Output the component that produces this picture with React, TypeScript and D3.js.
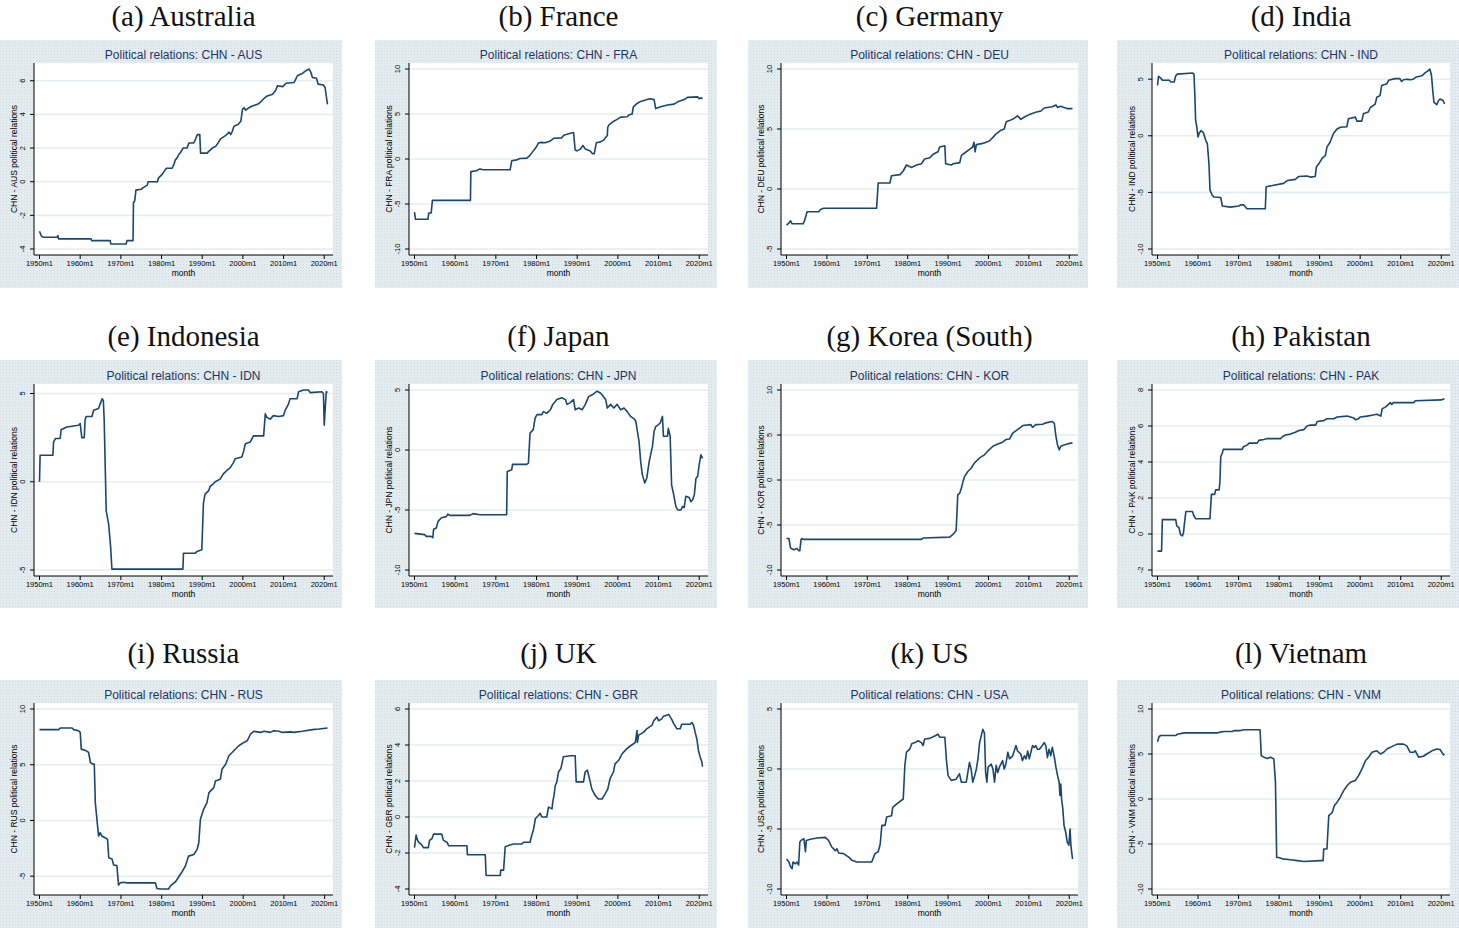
import React from "react";
import * as d3 from "d3";

type Pt = [number, number];

const panelTitles = [
  "(a) Australia", "(b) France", "(c) Germany", "(d) India",
  "(e) Indonesia", "(f) Japan", "(g) Korea (South)", "(h) Pakistan",
  "(i) Russia", "(j) UK", "(k) US", "(l) Vietnam",
];
const partnerCodes = ["AUS", "FRA", "DEU", "IND", "IDN", "JPN", "KOR", "PAK", "RUS", "GBR", "USA", "VNM"];
const xTickYears = [1950, 1960, 1970, 1980, 1990, 2000, 2010, 2020];

const yTicksAUS = [-4, -2, 0, 2, 4, 6];
const yTicksFRA = [-10, -5, 0, 5, 10];
const yTicksDEU = [-5, 0, 5, 10];
const yTicksIND = [-10, -5, 0, 5];
const yTicksIDN = [-5, 0, 5];
const yTicksJPN = [-10, -5, 0, 5];
const yTicksKOR = [-10, -5, 0, 5, 10];
const yTicksPAK = [-2, 0, 2, 4, 6, 8];
const yTicksRUS = [-5, 0, 5, 10];
const yTicksGBR = [-4, -2, 0, 2, 4, 6];
const yTicksUSA = [-10, -5, 0, 5];
const yTicksVNM = [-10, -5, 0, 5, 10];

const seriesAUS: Pt[] = [
  [1950.0, -2.95], [1950.4, -3.2], [1950.9, -3.3], [1954.4, -3.3], [1954.5, -3.2], [1954.7, -3.4],
  [1962.7, -3.4], [1962.8, -3.5], [1967.4, -3.5], [1967.5, -3.7], [1971.3, -3.7], [1971.5, -3.5],
  [1973.0, -3.5], [1973.1, -1.25], [1973.4, -1.15], [1973.7, -0.5], [1975.0, -0.45], [1975.5, -0.35],
  [1976.5, -0.2], [1976.7, 0], [1979.0, 0], [1979.2, 0.2], [1979.6, 0.3], [1980.2, 0.45], [1980.6, 0.6],
  [1981.2, 0.8], [1982.6, 0.8], [1983.0, 1.0], [1983.4, 1.3], [1983.8, 1.4], [1984.2, 1.6], [1984.7, 1.75],
  [1985.3, 2.0], [1986.3, 2.0], [1986.7, 2.3], [1987.9, 2.3], [1988.4, 2.55], [1988.8, 2.8], [1989.4, 2.8],
  [1989.6, 1.7], [1991.2, 1.7], [1991.6, 1.8], [1992.5, 2.0], [1993.3, 2.1], [1993.9, 2.3], [1994.5, 2.55],
  [1995.8, 2.75], [1996.6, 2.95], [1997.0, 2.8], [1997.4, 3.0], [1997.8, 3.3], [1998.8, 3.4], [1999.5, 3.6],
  [1999.9, 4.3], [2000.3, 4.4], [2000.7, 4.25], [2001.5, 4.4], [2002.3, 4.5], [2003.6, 4.6], [2004.4, 4.75],
  [2005.2, 4.95], [2006.0, 5.1], [2007.3, 5.2], [2008.1, 5.45], [2008.5, 5.7], [2009.8, 5.65], [2010.6, 5.85],
  [2012.6, 5.9], [2013.4, 6.3], [2014.7, 6.45], [2015.5, 6.6], [2016.3, 6.7], [2016.7, 6.5], [2017.1, 6.2],
  [2018.1, 6.15], [2018.5, 5.8], [2019.8, 5.75], [2020.2, 5.6], [2020.8, 4.6],
];

const seriesFRA: Pt[] = [
  [1950.0, -5.9], [1950.25, -6.7], [1953.3, -6.7], [1953.5, -6.0], [1954.1, -6.0], [1954.4, -4.6],
  [1963.75, -4.6], [1963.85, -1.4], [1965.2, -1.3], [1966.1, -1.1], [1966.9, -1.2], [1973.5, -1.2],
  [1973.9, -0.2], [1975.1, -0.1], [1975.9, 0.05], [1977.6, 0.1], [1978.4, 0.4], [1979.2, 0.9], [1979.9, 1.3],
  [1980.5, 1.8], [1981.3, 1.85], [1982.1, 1.8], [1983.4, 2.0], [1984.2, 2.3], [1986.2, 2.35], [1986.7, 2.65],
  [1987.9, 2.8], [1989.1, 2.95], [1989.5, 1.0], [1989.9, 0.9], [1990.8, 1.1], [1991.4, 1.5], [1992.0, 1.1],
  [1993.2, 0.9], [1993.7, 0.6], [1994.2, 0.6], [1994.7, 1.8], [1995.7, 1.9], [1996.5, 2.1], [1997.4, 2.6],
  [1997.5, 3.5], [1997.8, 3.8], [1999.0, 4.2], [1999.8, 4.4], [2000.7, 4.65], [2002.3, 4.7], [2002.7, 4.9],
  [2003.5, 5.0], [2003.8, 5.8], [2004.8, 6.2], [2005.6, 6.4], [2007.2, 6.6], [2007.9, 6.7], [2008.9, 6.6],
  [2009.3, 5.6], [2010.5, 5.8], [2012.2, 6.0], [2013.8, 6.1], [2014.7, 6.35], [2016.3, 6.6], [2017.1, 6.85],
  [2019.6, 6.9], [2020.0, 6.7], [2020.4, 6.8], [2020.8, 6.7],
];

const seriesDEU: Pt[] = [
  [1950.0, -3.0], [1950.6, -2.85], [1951.0, -2.65], [1951.4, -2.9], [1954.1, -2.9], [1954.5, -2.6],
  [1955.1, -1.9], [1958.0, -1.9], [1958.4, -1.7], [1959.2, -1.6], [1972.3, -1.6], [1972.7, 0.5],
  [1975.6, 0.5], [1976.0, 1.1], [1978.1, 1.2], [1978.9, 1.5], [1979.7, 2.0], [1981.0, 1.8], [1982.2, 2.0],
  [1983.4, 2.1], [1984.2, 2.5], [1985.5, 2.6], [1986.3, 2.9], [1987.5, 3.1], [1987.9, 3.5], [1989.2, 3.6],
  [1989.4, 2.1], [1990.8, 2.0], [1991.2, 2.1], [1992.9, 2.2], [1993.3, 2.8], [1994.1, 3.0], [1995.3, 3.3],
  [1996.1, 3.5], [1996.4, 3.9], [1996.7, 3.1], [1997.0, 3.7], [1998.6, 3.8], [2000.2, 4.0], [2001.1, 4.3],
  [2001.9, 4.6], [2003.1, 4.9], [2003.9, 5.0], [2004.4, 5.6], [2005.2, 5.7], [2006.4, 5.9], [2007.2, 6.1],
  [2008.0, 5.8], [2008.9, 6.0], [2010.1, 6.2], [2011.7, 6.4], [2013.0, 6.5], [2013.8, 6.75], [2015.8, 6.85],
  [2016.7, 7.0], [2017.1, 6.8], [2017.9, 6.9], [2018.7, 6.8], [2019.5, 6.7], [2020.8, 6.7],
];

const seriesIND: Pt[] = [
  [1950.0, 4.45], [1950.25, 5.25], [1950.8, 5.1], [1951.2, 4.9], [1952.9, 4.9], [1953.3, 4.75], [1954.1, 4.75],
  [1954.5, 5.3], [1954.9, 5.45], [1958.6, 5.55], [1959.0, 5.45], [1959.2, 3.7], [1959.4, 1.4], [1959.7, 0.75],
  [1960.0, -0.1], [1960.25, 0.2], [1960.7, 0.45], [1961.3, 0.3], [1961.9, -0.4], [1962.3, -0.7], [1962.7, -2.5],
  [1962.95, -4.8], [1963.5, -5.25], [1963.9, -5.4], [1965.6, -5.45], [1966.0, -6.2], [1968.0, -6.3],
  [1970.1, -6.2], [1970.5, -6.1], [1971.3, -6.1], [1971.7, -6.3], [1972.1, -6.45], [1976.6, -6.45],
  [1976.8, -4.5], [1981.1, -4.2], [1982.0, -3.95], [1984.0, -3.85], [1984.8, -3.6], [1986.9, -3.55],
  [1987.7, -3.65], [1988.9, -3.6], [1989.2, -2.75], [1989.75, -2.5], [1990.6, -2.0], [1991.4, -1.75],
  [1991.8, -1.0], [1992.6, -0.55], [1993.4, 0.2], [1994.3, 0.6], [1995.1, 0.75], [1996.7, 0.8], [1997.1, 1.5],
  [1998.8, 1.65], [1999.2, 1.3], [2000.4, 1.3], [2000.8, 1.95], [2002.0, 2.1], [2002.5, 2.5], [2003.7, 2.8],
  [2004.1, 3.4], [2004.9, 3.55], [2005.3, 4.45], [2006.6, 4.6], [2007.0, 4.9], [2008.6, 5.05], [2009.8, 5.05],
  [2010.2, 4.8], [2010.7, 4.95], [2011.5, 5.0], [2012.3, 4.95], [2013.1, 5.0], [2013.9, 5.2], [2015.2, 5.3],
  [2016.0, 5.55], [2016.8, 5.75], [2017.2, 5.9], [2017.6, 5.3], [2017.9, 4.0], [2018.2, 2.95], [2018.9, 2.75],
  [2019.3, 3.1], [2019.7, 3.25], [2020.5, 3.1], [2020.8, 2.8],
];

const seriesIDN: Pt[] = [
  [1950.0, 0], [1950.15, 1.5], [1953.3, 1.5], [1953.45, 2.25], [1953.9, 2.45], [1955.1, 2.45], [1955.3, 2.95],
  [1956.7, 3.1], [1957.95, 3.15], [1959.6, 3.2], [1960.0, 3.3], [1960.4, 2.5], [1961.0, 2.5], [1961.2, 3.5],
  [1961.5, 3.7], [1962.9, 3.7], [1963.3, 4.05], [1964.5, 4.15], [1964.9, 4.4], [1965.4, 4.7], [1965.7, 4.6],
  [1965.9, 3.5], [1966.4, -1.65], [1967.0, -2.4], [1967.5, -3.75], [1967.8, -4.95], [1985.25, -4.95],
  [1985.4, -4.05], [1988.3, -4.05], [1988.7, -3.95], [1989.9, -3.85], [1990.3, -1.2], [1990.7, -0.7],
  [1991.6, -0.5], [1992.0, -0.25], [1992.8, -0.1], [1993.2, 0], [1994.4, 0.15], [1995.2, 0.45], [1996.1, 0.65],
  [1996.9, 0.8], [1997.7, 1.1], [1998.1, 1.3], [1999.75, 1.4], [2000.2, 1.75], [2000.6, 2.15], [2001.8, 2.25],
  [2002.6, 2.6], [2005.1, 2.6], [2005.5, 3.85], [2005.9, 3.65], [2006.7, 3.55], [2007.5, 3.75], [2008.8, 3.7],
  [2010.0, 3.75], [2010.4, 4.05], [2011.2, 4.4], [2011.6, 4.7], [2013.3, 4.7], [2013.7, 5.1], [2014.9, 5.2],
  [2016.1, 5.2], [2016.6, 5.05], [2019.4, 5.1], [2019.8, 5.0], [2020.0, 3.2], [2020.25, 4.2], [2020.5, 5.1],
  [2020.8, 5.05],
];

const seriesJPN: Pt[] = [
  [1950.0, -6.95], [1952.5, -7.05], [1952.9, -7.2], [1954.1, -7.2], [1954.5, -7.3], [1954.7, -6.6],
  [1955.35, -6.5], [1955.8, -5.95], [1956.6, -5.65], [1957.8, -5.55], [1958.2, -5.35], [1958.65, -5.45],
  [1963.6, -5.45], [1964.4, -5.3], [1966.1, -5.4], [1972.65, -5.4], [1972.8, -1.8], [1973.9, -1.65],
  [1974.1, -1.2], [1977.6, -1.2], [1978.0, -1.1], [1978.4, 1.4], [1978.8, 1.55], [1979.2, 1.7], [1979.65, 2.65],
  [1980.1, 2.95], [1981.3, 2.95], [1981.7, 3.2], [1982.5, 3.05], [1983.4, 3.35], [1984.0, 3.8], [1985.0, 4.2],
  [1986.2, 4.35], [1987.1, 4.2], [1987.5, 3.8], [1988.3, 3.95], [1989.1, 4.2], [1989.5, 3.35], [1990.4, 3.5],
  [1991.2, 3.35], [1992.0, 3.8], [1992.8, 4.45], [1993.7, 4.6], [1994.9, 4.9], [1995.7, 4.75], [1996.1, 4.6],
  [1997.0, 4.2], [1997.4, 3.5], [1998.2, 3.8], [1999.0, 3.5], [1999.8, 3.8], [2000.7, 3.35], [2001.5, 3.5],
  [2002.3, 3.2], [2003.1, 2.8], [2004.0, 2.6], [2004.4, 2.4], [2004.8, 1.55], [2005.2, 0.7], [2005.6, -0.95],
  [2006.0, -2.05], [2006.6, -2.75], [2007.1, -2.35], [2007.7, -0.95], [2008.5, 0.3], [2008.9, 1.55],
  [2009.3, 1.95], [2009.9, 2.1], [2010.4, 2.25], [2010.95, 2.8], [2011.2, 1.15], [2012.2, 1.15], [2012.4, 1.8],
  [2012.85, 1.15], [2013.2, -2.9], [2013.7, -3.7], [2014.25, -4.7], [2014.7, -5.0], [2015.5, -5.0],
  [2015.9, -4.7], [2016.3, -4.8], [2016.7, -3.85], [2017.5, -3.95], [2017.95, -4.3], [2018.4, -4.15],
  [2018.8, -3.7], [2019.2, -2.35], [2019.6, -2.2], [2020.0, -1.2], [2020.4, -0.4], [2020.8, -0.7],
];

const seriesKOR: Pt[] = [
  [1950.0, -6.5], [1950.6, -6.5], [1951.0, -7.55], [1951.8, -7.75], [1952.6, -7.6], [1953.0, -7.85],
  [1953.3, -7.85], [1953.6, -6.6], [1953.9, -6.5], [1954.1, -6.6], [1983.4, -6.6], [1983.8, -6.45],
  [1990.4, -6.35], [1991.2, -6.05], [1992.0, -5.6], [1992.4, -1.65], [1992.9, -1.45], [1993.3, -0.9],
  [1993.7, -0.15], [1994.1, 0.4], [1994.9, 0.95], [1995.7, 1.3], [1996.55, 1.9], [1997.8, 2.45], [1999.0, 2.8],
  [1999.8, 3.2], [2001.1, 3.75], [2002.3, 4.0], [2003.5, 4.2], [2004.35, 4.5], [2005.2, 4.55], [2006.0, 5.2],
  [2007.2, 5.6], [2008.5, 6.05], [2010.5, 6.15], [2010.9, 5.85], [2011.7, 6.15], [2013.4, 6.2], [2014.2, 6.35],
  [2015.8, 6.5], [2016.3, 6.3], [2016.7, 4.85], [2017.1, 3.9], [2017.5, 3.35], [2017.9, 3.75], [2018.7, 3.9],
  [2019.5, 4.0], [2020.4, 4.1], [2020.8, 4.1],
];

const seriesPAK: Pt[] = [
  [1950.0, -0.95], [1951.0, -0.95], [1951.2, 0.8], [1954.5, 0.8], [1954.75, 0.45], [1955.3, 0.35],
  [1955.7, -0.05], [1956.15, -0.1], [1956.4, 0.05], [1956.7, 0.7], [1957.0, 1.25], [1958.6, 1.25],
  [1959.0, 1.0], [1959.4, 0.85], [1962.95, 0.85], [1963.3, 2.2], [1964.1, 2.2], [1964.35, 2.45], [1965.2, 2.45],
  [1965.4, 2.9], [1965.6, 4.3], [1966.0, 4.5], [1966.2, 4.7], [1970.9, 4.7], [1971.2, 4.85], [1972.15, 4.95],
  [1972.6, 5.05], [1974.6, 5.05], [1975.0, 5.2], [1976.25, 5.25], [1977.1, 5.3], [1980.35, 5.3], [1980.8, 5.4],
  [1981.6, 5.5], [1982.8, 5.55], [1984.0, 5.65], [1984.9, 5.75], [1986.1, 5.8], [1986.9, 6.0], [1987.7, 6.05],
  [1989.0, 6.05], [1989.4, 6.25], [1991.0, 6.3], [1991.8, 6.4], [1993.5, 6.4], [1994.3, 6.5], [1996.8, 6.55],
  [1997.6, 6.5], [1998.4, 6.45], [1998.8, 6.35], [1999.6, 6.4], [2000.0, 6.5], [2001.7, 6.55], [2002.9, 6.6],
  [2004.1, 6.65], [2005.1, 6.55], [2005.4, 6.95], [2006.2, 7.05], [2007.0, 7.2], [2007.4, 7.3], [2007.8, 7.2],
  [2008.2, 7.3], [2013.2, 7.3], [2013.6, 7.4], [2020.1, 7.45], [2020.55, 7.5], [2020.8, 7.5],
];

const seriesRUS: Pt[] = [
  [1950.0, 8.15], [1954.7, 8.15], [1955.1, 8.3], [1958.0, 8.3], [1958.4, 8.15], [1959.6, 8.05], [1960.0, 7.9],
  [1960.25, 6.4], [1961.5, 6.25], [1962.05, 6.1], [1962.5, 5.2], [1963.1, 5.05], [1963.45, 5.05],
  [1963.7, 1.6], [1964.1, 0.1], [1964.5, -1.4], [1964.9, -1.1], [1965.3, -1.4], [1966.1, -1.55],
  [1966.7, -1.7], [1967.0, -3.35], [1967.8, -3.45], [1968.2, -4.0], [1969.0, -4.05], [1969.4, -5.8],
  [1969.8, -5.6], [1970.7, -5.55], [1971.5, -5.6], [1978.45, -5.6], [1978.85, -6.1], [1979.7, -6.15],
  [1981.7, -6.15], [1982.1, -5.9], [1983.0, -5.6], [1983.4, -5.5], [1984.2, -5.05], [1985.0, -4.6],
  [1985.8, -4.1], [1986.6, -3.2], [1987.9, -3.05], [1988.7, -2.6], [1989.1, -2.0], [1989.5, 0.1],
  [1990.3, 1.0], [1991.1, 1.6], [1991.6, 2.5], [1992.8, 2.95], [1993.2, 3.55], [1994.4, 3.7], [1994.8, 4.6],
  [1995.7, 5.05], [1996.5, 5.8], [1997.7, 6.25], [1998.9, 6.7], [2000.2, 7.0], [2001.0, 7.15], [2001.8, 7.75],
  [2002.6, 8.0], [2004.3, 7.9], [2005.1, 8.0], [2006.7, 7.9], [2007.5, 8.05], [2008.8, 8.0], [2009.6, 7.9],
  [2011.6, 7.95], [2012.5, 7.9], [2014.5, 8.0], [2017.0, 8.15], [2018.6, 8.2], [2020.7, 8.3],
];

const seriesGBR: Pt[] = [
  [1950.0, -1.7], [1950.4, -1.0], [1950.6, -1.2], [1951.0, -1.4], [1951.8, -1.55], [1952.2, -1.7],
  [1953.4, -1.7], [1953.7, -1.3], [1954.3, -1.2], [1954.7, -0.95], [1956.7, -0.95], [1957.1, -1.3],
  [1958.0, -1.4], [1958.4, -1.6], [1962.9, -1.6], [1963.0, -2.1], [1967.4, -2.1], [1967.6, -3.25],
  [1971.1, -3.25], [1971.2, -2.95], [1971.9, -2.95], [1972.3, -1.65], [1973.5, -1.55], [1974.3, -1.5],
  [1976.4, -1.5], [1976.8, -1.4], [1978.4, -1.4], [1978.85, -1.0], [1979.3, -0.65], [1979.7, -0.1],
  [1980.5, 0.1], [1980.9, 0.2], [1981.3, 0], [1982.5, 0], [1982.95, 0.55], [1983.8, 0.45], [1984.0, 0.85],
  [1984.3, 1.2], [1984.6, 1.75], [1985.0, 1.95], [1985.4, 2.5], [1986.0, 2.7], [1986.6, 3.35], [1988.3, 3.4],
  [1989.5, 3.4], [1989.75, 1.95], [1991.55, 1.95], [1991.95, 2.5], [1992.5, 2.6], [1993.2, 1.95],
  [1993.6, 1.55], [1994.4, 1.2], [1995.2, 1.0], [1996.1, 1.0], [1996.9, 1.3], [1997.5, 1.55], [1998.1, 2.15],
  [1998.9, 2.5], [1999.3, 2.95], [2000.2, 3.15], [2001.0, 3.5], [2002.2, 3.8], [2003.4, 4.0], [2004.3, 4.15],
  [2004.7, 4.8], [2004.8, 4.15], [2005.1, 4.55], [2006.3, 4.7], [2007.1, 4.9], [2008.4, 5.1], [2008.8, 5.35],
  [2009.6, 5.55], [2010.0, 5.35], [2010.8, 5.45], [2011.2, 5.6], [2012.5, 5.7], [2013.3, 5.4], [2013.7, 5.2],
  [2014.5, 4.9], [2015.3, 4.9], [2015.7, 5.15], [2017.8, 5.15], [2018.2, 5.25], [2018.6, 5.1], [2019.0, 4.7],
  [2019.4, 4.35], [2019.8, 3.7], [2020.2, 3.35], [2020.65, 3.05], [2020.8, 2.8],
];

const seriesUSA: Pt[] = [
  [1950.0, -7.5], [1950.6, -7.75], [1951.0, -8.15], [1951.4, -8.3], [1951.6, -7.75], [1952.2, -7.9],
  [1952.6, -7.75], [1953.0, -8.0], [1953.3, -6.1], [1953.6, -5.95], [1954.3, -5.8], [1954.7, -6.9],
  [1954.9, -5.95], [1955.9, -5.85], [1957.6, -5.75], [1959.6, -5.7], [1960.4, -5.95], [1961.2, -6.5],
  [1962.1, -6.8], [1962.5, -6.65], [1962.9, -7.0], [1964.1, -7.05], [1965.4, -7.35], [1966.2, -7.6],
  [1967.4, -7.75], [1971.1, -7.75], [1971.9, -7.05], [1972.7, -6.9], [1973.2, -6.25], [1973.6, -4.7],
  [1974.4, -4.7], [1974.8, -4.0], [1976.0, -3.9], [1976.3, -3.2], [1977.3, -2.9], [1978.9, -2.5],
  [1979.3, 0.3], [1979.7, 1.4], [1980.5, 1.65], [1981.0, 2.1], [1981.8, 2.2], [1982.6, 2.35], [1983.4, 2.2],
  [1983.8, 1.95], [1984.2, 2.5], [1985.5, 2.55], [1986.7, 2.75], [1987.5, 2.9], [1987.9, 2.65], [1989.2, 2.65],
  [1989.6, 0.7], [1990.0, -0.55], [1990.8, -0.95], [1992.0, -0.85], [1992.8, -0.4], [1993.3, -1.1],
  [1994.5, -1.1], [1995.3, 0.55], [1995.7, 0], [1996.1, -1.1], [1996.6, -0.55], [1997.0, 0], [1997.4, 0.85],
  [1997.8, 2.2], [1998.2, 2.75], [1998.6, 3.3], [1999.0, 3.0], [1999.3, -0.3], [1999.6, -1.1], [1999.9, 0.15],
  [2000.7, 0.4], [2001.1, 0], [2001.5, -1.1], [2001.9, 0.3], [2002.3, -0.3], [2002.7, 0.15], [2003.5, 0.7],
  [2003.9, 0], [2004.3, 0.4], [2004.8, 1.4], [2005.2, 0.85], [2006.0, 1.1], [2006.8, 1.95], [2007.2, 1.5],
  [2008.0, 1.25], [2008.4, 0.7], [2008.9, 1.1], [2009.3, 0.85], [2009.7, 1.5], [2010.1, 0.85], [2010.9, 1.95],
  [2011.3, 1.8], [2011.7, 1.95], [2012.1, 1.65], [2012.6, 1.65], [2013.0, 1.8], [2013.8, 2.2], [2014.2, 1.95],
  [2014.6, 0.95], [2015.0, 1.65], [2015.4, 1.1], [2015.8, 1.8], [2016.3, 1.0], [2016.7, 0.15], [2017.1, -0.55],
  [2017.5, -1.1], [2017.7, -2.2], [2017.9, -1.25], [2018.1, -2.5], [2018.4, -3.3], [2018.7, -4.7],
  [2019.1, -5.25], [2019.5, -6.1], [2019.9, -6.35], [2020.2, -5.0], [2020.4, -6.35], [2020.8, -7.5],
];

const seriesVNM: Pt[] = [
  [1950.0, 6.35], [1950.4, 6.95], [1950.8, 7.05], [1954.5, 7.05], [1954.9, 7.2], [1956.6, 7.35],
  [1964.8, 7.35], [1965.2, 7.4], [1966.4, 7.5], [1968.5, 7.5], [1968.9, 7.6], [1970.5, 7.6], [1971.3, 7.7],
  [1975.3, 7.7], [1975.6, 4.8], [1976.25, 4.65], [1977.1, 4.5], [1977.9, 4.65], [1978.7, 4.45], [1979.1, 1.85],
  [1979.4, -6.5], [1979.9, -6.5], [1980.8, -6.65], [1982.8, -6.75], [1984.5, -6.85], [1986.1, -6.95],
  [1990.2, -6.85], [1990.85, -6.85], [1991.0, -5.55], [1991.8, -5.55], [1992.25, -1.85], [1993.1, -1.5],
  [1993.6, -0.75], [1994.3, -0.35], [1995.1, 0.2], [1995.9, 0.9], [1996.8, 1.5], [1997.6, 1.85], [1998.8, 2.05],
  [1999.6, 2.6], [2000.45, 3.35], [2001.3, 4.25], [2002.1, 4.65], [2002.9, 5.2], [2004.1, 5.35], [2005.0, 5.0],
  [2005.8, 5.2], [2006.6, 5.55], [2008.2, 5.9], [2009.1, 6.1], [2010.7, 6.1], [2011.5, 5.9], [2012.3, 5.2],
  [2013.2, 5.2], [2013.6, 5.35], [2014.4, 4.65], [2015.6, 4.75], [2016.4, 5.0], [2017.7, 5.35], [2018.9, 5.55],
  [2019.7, 5.5], [2020.55, 4.9], [2020.8, 5.0],
];

const allSeries = [
  seriesAUS, seriesFRA, seriesDEU, seriesIND, seriesIDN, seriesJPN,
  seriesKOR, seriesPAK, seriesRUS, seriesGBR, seriesUSA, seriesVNM,
];
const allYTicks = [
  yTicksAUS, yTicksFRA, yTicksDEU, yTicksIND, yTicksIDN, yTicksJPN,
  yTicksKOR, yTicksPAK, yTicksRUS, yTicksGBR, yTicksUSA, yTicksVNM,
];

// ---- layout (pixels) ----
const W = 1459;
const H = 928;
const COL_BG = [[0, 342], [375, 717], [748, 1088], [1117, 1459]];
const COL_PLOT = [[34, 333], [409, 708], [781, 1078], [1152, 1450]];
const ROW_BG_TOP = [40, 360, 680];
const ROW_PLOT_TOP = [63, 384, 703];
const ROW_TITLE_BASE = [26, 346, 663];
const BG_H = 248;
const PLOT_H = 192;
const PAD_Y = 6;
const PAD_X = 5.5;

const NAVY = "#1a476f";
const TITLE_NAVY = "#1c3564";
const BG = "#e6eef1";
const GRID = "#e5eef0";
const SANS = "'Liberation Sans', Arial, Helvetica, sans-serif";
const SERIF = "'Liberation Serif', 'Times New Roman', Times, serif";

function paddedDomain(lo: number, hi: number, px: number, pad: number): [number, number] {
  const k = (px - 2 * pad) / (hi - lo);
  return [lo - pad / k, hi + pad / k];
}

function Panel({ idx }: { idx: number }) {
  const col = idx % 4;
  const row = Math.floor(idx / 4);
  const data = allSeries[idx];
  const yTicks = allYTicks[idx];
  const [L, R] = COL_PLOT[col];
  const T = ROW_PLOT_TOP[row];
  const B = T + PLOT_H;
  const cx = (L + R) / 2;

  const xs = data.map((d) => d[0]).concat(xTickYears);
  const ys = data.map((d) => d[1]).concat(yTicks);
  const x = d3.scaleLinear()
    .domain(paddedDomain(d3.min(xs)!, d3.max(xs)!, R - L, PAD_X))
    .range([L, R]);
  const y = d3.scaleLinear()
    .domain(paddedDomain(d3.min(ys)!, d3.max(ys)!, PLOT_H, PAD_Y))
    .range([B, T]);
  const line = d3.line<Pt>().x((d) => x(d[0])).y((d) => y(d[1]));

  const code = partnerCodes[idx];
  return (
    <g>
      <rect x={COL_BG[col][0]} y={ROW_BG_TOP[row]} width={COL_BG[col][1] - COL_BG[col][0]} height={BG_H} fill="url(#dots)" />
      <text x={cx} y={ROW_TITLE_BASE[row]} textAnchor="middle" fontFamily={SERIF} fontSize={29} fill="#111">
        {panelTitles[idx]}
      </text>
      <rect x={L} y={T} width={R - L} height={PLOT_H} fill="#ffffff" />
      <text x={cx} y={T - 4.5} textAnchor="middle" fontFamily={SANS} fontSize={12} fill={TITLE_NAVY}>
        {`Political relations: CHN - ${code}`}
      </text>
      {yTicks.map((t) => (
        <line key={"g" + t} x1={L} x2={R} y1={y(t)} y2={y(t)} stroke={GRID} strokeWidth={1.6} />
      ))}
      <path d={line(data) ?? ""} fill="none" stroke={NAVY} strokeWidth={1.6} strokeLinejoin="round" />
      <line x1={L} x2={L} y1={T} y2={B} stroke="#000" strokeWidth={1} />
      <line x1={L} x2={R} y1={B} y2={B} stroke="#000" strokeWidth={1} />
      {yTicks.map((t) => (
        <g key={"y" + t}>
          <line x1={L - 4} x2={L} y1={y(t)} y2={y(t)} stroke="#000" strokeWidth={1} />
          <text
            transform={`translate(${L - 9},${y(t)}) rotate(-90)`}
            textAnchor="middle" fontFamily={SANS} fontSize={7.5} fill="#000"
          >
            {t}
          </text>
        </g>
      ))}
      {xTickYears.map((t) => (
        <g key={"x" + t}>
          <line x1={x(t)} x2={x(t)} y1={B} y2={B + 4} stroke="#000" strokeWidth={1} />
          <text x={x(t)} y={B + 10.5} textAnchor="middle" fontFamily={SANS} fontSize={7.5} fill="#000">
            {`${t}m1`}
          </text>
        </g>
      ))}
      <text x={cx} y={B + 20.5} textAnchor="middle" fontFamily={SANS} fontSize={8.5} fill="#000">
        month
      </text>
      <text
        transform={`translate(${L - 17},${(T + B) / 2}) rotate(-90)`}
        textAnchor="middle" fontFamily={SANS} fontSize={8.5} fill="#000"
      >
        {`CHN - ${code} political relations`}
      </text>
    </g>
  );
}

export default function App() {
  return (
    <div style={{ position: "absolute", left: 0, top: 0 }}>
      <svg width={W} height={H} viewBox={`0 0 ${W} ${H}`} style={{ display: "block", background: "#fff" }}>
        <defs>
          <pattern id="dots" width={3} height={3} patternUnits="userSpaceOnUse">
            <rect width={3} height={3} fill={BG} />
            <rect x={0} y={0} width={1} height={1} fill="#c9d6dc" />
            <rect x={1.5} y={1.5} width={1} height={1} fill="#d3dfe3" />
          </pattern>
        </defs>
        {panelTitles.map((_, i) => (
          <Panel key={i} idx={i} />
        ))}
      </svg>
    </div>
  );
}
